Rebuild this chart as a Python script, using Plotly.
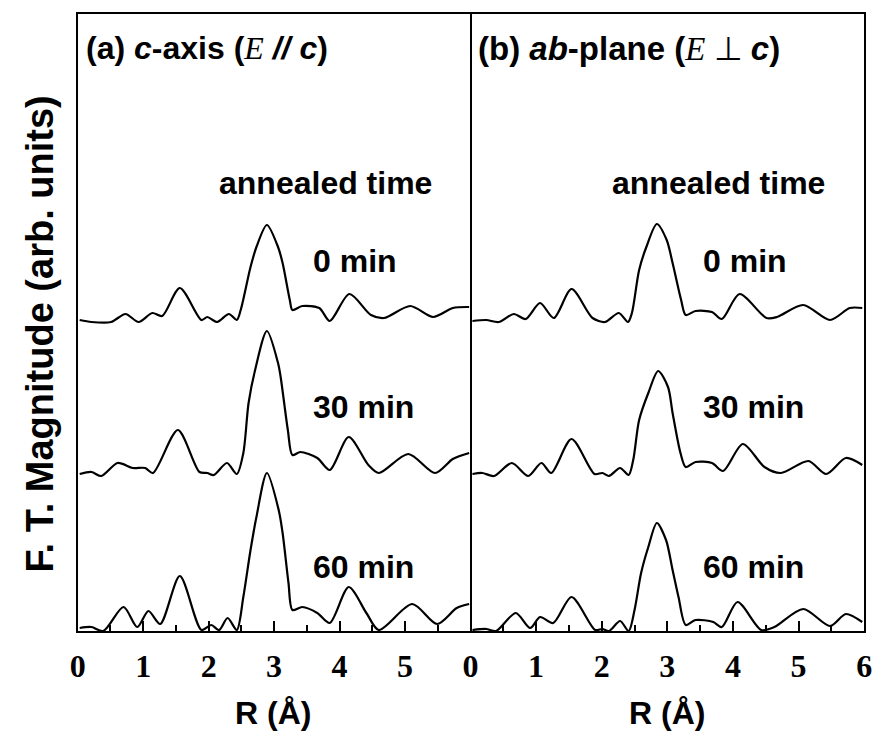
import plotly.graph_objects as go

# ---- (a) c-axis, E // c : radial distance R (Å) and F.T. magnitude (arb. units)
r_c_0 = [0.03, 0.21, 0.51, 0.73, 0.93, 1.14, 1.29, 1.56, 1.89, 1.98, 2.13, 2.31, 2.43, 2.49, 2.64, 2.73,
         2.89, 3.06, 3.13, 3.24, 3.28, 3.43, 3.69, 3.85, 4.15, 4.48, 4.68, 5.08, 5.43, 5.73, 5.98]
m_c_0 = [0.02, 0.00, 0.00, 0.08, 0.00, 0.09, 0.06, 0.34, 0.02, 0.05, 0.00, 0.08, 0.02, 0.12, 0.55, 0.75,
         0.97, 0.75, 0.59, 0.22, 0.12, 0.16, 0.14, 0.01, 0.28, 0.07, 0.04, 0.16, 0.05, 0.14, 0.15]

r_c_30 = [0.03, 0.21, 0.36, 0.61, 0.84, 1.03, 1.15, 1.53, 1.86, 1.98, 2.08, 2.28, 2.43, 2.53, 2.61, 2.71,
          2.89, 3.06, 3.10, 3.21, 3.28, 3.40, 3.66, 3.85, 4.14, 4.44, 4.60, 5.05, 5.46, 5.73, 5.98]
m_c_30 = [0.02, 0.04, 0.00, 0.13, 0.08, 0.08, 0.03, 0.46, 0.04, 0.03, 0.01, 0.13, 0.02, 0.23, 0.73, 1.06,
          1.45, 1.13, 0.99, 0.46, 0.21, 0.24, 0.18, 0.06, 0.39, 0.11, 0.03, 0.22, 0.03, 0.17, 0.23]

r_c_60 = [0.03, 0.21, 0.39, 0.70, 0.91, 1.08, 1.26, 1.56, 1.89, 2.04, 2.16, 2.29, 2.43, 2.53, 2.64, 2.73,
          2.89, 3.07, 3.13, 3.22, 3.28, 3.43, 3.66, 3.85, 4.14, 4.41, 4.60, 5.11, 5.49, 5.79, 5.98]
m_c_60 = [0.03, 0.04, 0.00, 0.24, 0.04, 0.20, 0.07, 0.55, 0.01, 0.06, 0.01, 0.13, 0.01, 0.34, 0.81, 1.14,
          1.58, 1.21, 0.98, 0.48, 0.21, 0.24, 0.18, 0.08, 0.44, 0.18, 0.01, 0.27, 0.07, 0.23, 0.27]

# ---- (b) ab-plane, E ⊥ c
r_ab_0 = [0.03, 0.24, 0.43, 0.66, 0.84, 1.06, 1.27, 1.54, 1.86, 2.05, 2.26, 2.40, 2.46, 2.57, 2.68,
          2.84, 2.99, 3.08, 3.21, 3.28, 3.43, 3.68, 3.83, 4.10, 4.51, 4.67, 5.07, 5.48, 5.78, 5.97]
m_ab_0 = [0.01, 0.02, 0.00, 0.08, 0.03, 0.19, 0.04, 0.33, 0.04, 0.00, 0.09, 0.00, 0.09, 0.52, 0.75,
          0.98, 0.82, 0.59, 0.22, 0.07, 0.11, 0.10, 0.03, 0.28, 0.04, 0.05, 0.17, 0.02, 0.14, 0.14]

r_ab_30 = [0.03, 0.18, 0.36, 0.63, 0.88, 1.08, 1.23, 1.54, 1.89, 2.01, 2.11, 2.28, 2.41, 2.48, 2.57, 2.71,
           2.86, 3.01, 3.08, 3.20, 3.28, 3.43, 3.68, 3.85, 4.15, 4.48, 4.73, 5.15, 5.42, 5.72, 5.97]
m_ab_30 = [0.02, 0.03, 0.00, 0.13, 0.00, 0.13, 0.03, 0.37, 0.02, 0.03, 0.00, 0.08, 0.01, 0.16, 0.56, 0.83,
           1.05, 0.89, 0.63, 0.23, 0.09, 0.14, 0.13, 0.05, 0.32, 0.09, 0.03, 0.15, 0.02, 0.18, 0.11]

r_ab_60 = [0.03, 0.24, 0.39, 0.69, 0.91, 1.06, 1.26, 1.54, 1.90, 2.01, 2.11, 2.28, 2.41, 2.50, 2.60, 2.71,
           2.84, 2.98, 3.08, 3.17, 3.28, 3.43, 3.70, 3.83, 4.07, 4.43, 4.63, 5.07, 5.48, 5.72, 5.97]
m_ab_60 = [0.01, 0.02, 0.00, 0.18, 0.03, 0.14, 0.08, 0.34, 0.01, 0.02, 0.00, 0.10, 0.00, 0.21, 0.58, 0.84,
           1.08, 0.91, 0.61, 0.34, 0.06, 0.11, 0.09, 0.04, 0.29, 0.01, 0.04, 0.22, 0.05, 0.17, 0.09]

# vertical offsets used to stack the spectra
anneal_labels = ["0 min", "30 min", "60 min"]
stack_offsets = [3.09, 1.55, 0.0]

x_tick_vals = [0, 1, 2, 3, 4, 5, 6]
x_tick_text_a = ["0", "1", "2", "3", "4", "5", ""]
x_tick_text_b = ["0", "1", "2", "3", "4", "5", "6"]

W, H = 884, 737
L0, MID, R1 = 71, 471, 872      # panel edges (px)
TOP, BOT = 14, 631

def px(x):
    return x / W

def py(y):
    return 1 - y / H

fig = go.Figure()

series_a = [(r_c_0, m_c_0), (r_c_30, m_c_30), (r_c_60, m_c_60)]
series_b = [(r_ab_0, m_ab_0), (r_ab_30, m_ab_30), (r_ab_60, m_ab_60)]

curve = dict(color="black", width=2.2, shape="spline", smoothing=0.8)
for (r, m), off in zip(series_a, stack_offsets):
    fig.add_trace(go.Scatter(x=r, y=[v + off for v in m], mode="lines", line=curve,
                             xaxis="x", yaxis="y", showlegend=False, hoverinfo="skip"))
for (r, m), off in zip(series_b, stack_offsets):
    fig.add_trace(go.Scatter(x=r, y=[v + off for v in m], mode="lines", line=curve,
                             xaxis="x2", yaxis="y2", showlegend=False, hoverinfo="skip"))

tick_font = dict(family="Liberation Serif", size=32, color="black", weight="bold")
xcommon = dict(range=[0, 6], showline=True, linecolor="black", linewidth=2.2, mirror=True,
               ticks="inside", ticklen=10, tickwidth=2, tickcolor="black",
               minor=dict(ticks="inside", dtick=0.5, ticklen=6, tickwidth=2, tickcolor="black"),
               showgrid=False, zeroline=False, tickvals=x_tick_vals, tickfont=tick_font,
               ticklabelstandoff=5)
ycommon = dict(range=[0, 6.17], showline=True, linecolor="black", linewidth=2.2,
               ticks="", showticklabels=False, showgrid=False, zeroline=False)

fig.update_layout(
    width=W, height=H, margin=dict(l=0, r=0, t=0, b=0),
    paper_bgcolor="white", plot_bgcolor="white",
    xaxis=dict(domain=[px(L0), px(MID)], anchor="y", ticktext=x_tick_text_a, **xcommon),
    xaxis2=dict(domain=[px(MID), px(R1)], anchor="y2", ticktext=x_tick_text_b, **xcommon),
    # left panel: lines on both sides; right panel: only its outer right edge (shared divider)
    yaxis=dict(domain=[py(BOT), py(TOP)], anchor="x", mirror=True, **ycommon),
    yaxis2=dict(domain=[py(BOT), py(TOP)], anchor="x2", side="right", **ycommon),
)

sans = "Liberation Sans"
ann = []

def text(x, y, s, size=32, xanchor="left", angle=0, family=sans):
    ann.append(dict(x=px(x), y=py(y), xref="paper", yref="paper", text=s, showarrow=False,
                    xanchor=xanchor, yanchor="middle", textangle=angle,
                    font=dict(family=family, size=size, color="black")))

text(77, 48, "<b>(a) <i>c</i>-axis (</b><span style='font-family:Liberation Serif'><i>E</i></span>"
             "<b> <i>//</i> <i>c</i>)</b>", size=32)
text(477, 48, "<b>(b) <i>ab</i>-plane (</b><span style='font-family:Liberation Serif'><i>E</i> ⊥ </span>"
              "<b><i>c</i>)</b>", size=33)

text(213, 183, "<b>annealed time</b>", size=32)
text(613, 183, "<b>annealed time</b>", size=32)

label_y = [261, 407, 567]
for lab, yy in zip(anneal_labels, label_y):
    text(309, yy, f"<b>{lab}</b>", size=32)
    text(706, yy, f"<b>{lab}</b>", size=32)

text(270, 713, "<b>R (Å)</b>", size=32, xanchor="center")
text(671, 713, "<b>R (Å)</b>", size=32, xanchor="center")

text(33, 334, "<b>F. T. Magnitude (arb. units)</b>", size=38, xanchor="center", angle=-90)

fig.update_layout(annotations=ann)
fig.write_html("out.html")
